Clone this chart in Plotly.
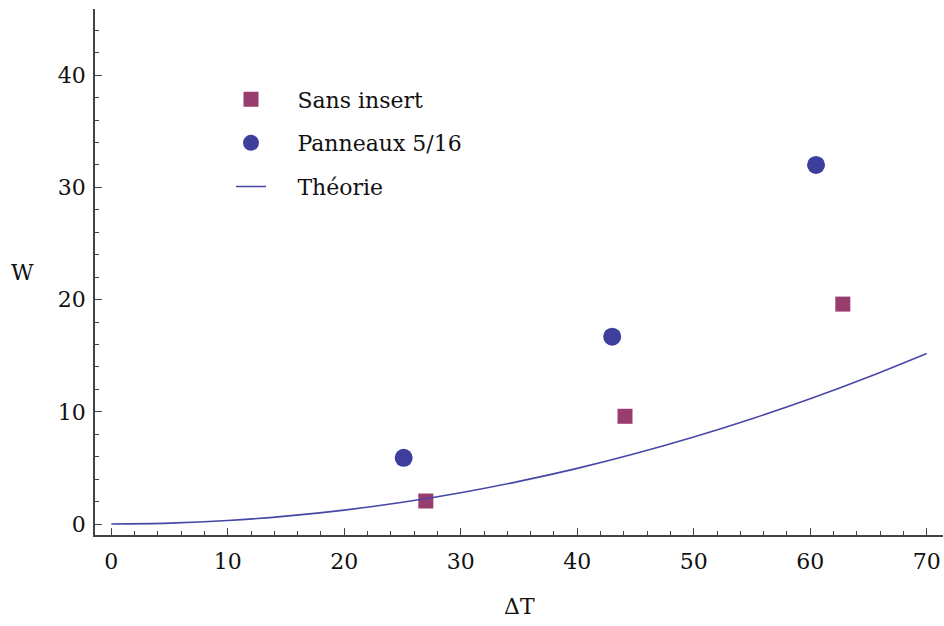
import plotly.graph_objects as go

# Measured data
sans_dt = [27.0, 44.1, 62.8]
sans_w = [2.05, 9.6, 19.6]
pann_dt = [25.1, 43.0, 60.5]
pann_w = [5.9, 16.7, 32.0]

# Theoretical curve, sampled
theo_dt = [0, 5, 10, 15, 20, 25, 30, 35, 40, 45, 50, 55, 60, 65, 70]
theo_w = [0.0, 0.08, 0.31, 0.70, 1.24, 1.94, 2.79, 3.80, 4.96, 6.28, 7.75, 9.38, 11.16, 13.10, 15.2]

SERIF = "DejaVu Serif"
AXIS_COLOR = "#444444"
TEXT_COLOR = "#111111"
PAD = "\u2002\u2002\u2009"

fig = go.Figure()
fig.add_trace(go.Scatter(
    x=sans_dt, y=sans_w, mode="markers", name=PAD + "Sans insert",
    marker=dict(symbol="square", size=15, color="#993d6e"),
    legendgroup="a",
))
fig.add_trace(go.Scatter(
    x=pann_dt, y=pann_w, mode="markers", name=PAD + "Panneaux 5/16",
    marker=dict(symbol="circle", size=18, color="#3e3e9c"),
    legendgroup="b",
))
fig.add_trace(go.Scatter(
    x=theo_dt, y=theo_w, mode="lines", name=PAD + "Théorie",
    line=dict(color="#4747a6", width=1.6, shape="spline"),
    legendgroup="c",
))

axis_common = dict(
    showgrid=False, zeroline=False, showline=True,
    linecolor=AXIS_COLOR, linewidth=1.5,
    ticks="inside", ticklen=7, tickwidth=1.2, tickcolor=AXIS_COLOR,
    tickfont=dict(family=SERIF, size=22, color=TEXT_COLOR),
    minor=dict(ticks="inside", ticklen=4, tickwidth=1, tickcolor=AXIS_COLOR, dtick=2),
)

fig.update_xaxes(range=[-1.4, 71.4], tick0=0, dtick=10, ticklabelstandoff=6, **axis_common)
fig.update_yaxes(range=[-0.98, 45.9], tick0=0, dtick=10, ticklabelstandoff=3, **axis_common)

fig.update_layout(
    width=944, height=626,
    margin=dict(l=95, r=1, t=9, b=91),
    plot_bgcolor="white", paper_bgcolor="white",
    font=dict(family=SERIF),
    showlegend=True,
    legend=dict(
        x=(231 - 95) / 848, y=0.868, xanchor="left", yanchor="top",
        font=dict(family=SERIF, size=22, color=TEXT_COLOR),
        bgcolor="rgba(0,0,0,0)", tracegroupgap=12,
        itemwidth=30,
    ),
    annotations=[
        dict(text="W", x=(22 - 95) / 848, y=(535 - 272) / 526,
             xref="paper", yref="paper", xanchor="center", yanchor="middle",
             showarrow=False, font=dict(family=SERIF, size=22, color=TEXT_COLOR)),
        dict(text="ΔT", x=0.5, y=(535 - 606) / 526,
             xref="paper", yref="paper", xanchor="center", yanchor="middle",
             showarrow=False, font=dict(family=SERIF, size=22, color=TEXT_COLOR)),
    ],
)

fig.write_html("out.html")
